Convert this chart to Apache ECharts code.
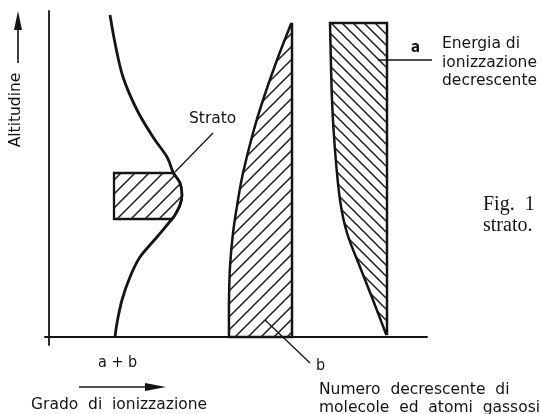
<!DOCTYPE html>
<html><head><meta charset="utf-8">
<script src="https://cdn.jsdelivr.net/npm/echarts@6/dist/echarts.min.js"></script>
<style>html,body{margin:0;padding:0;background:#fff}#c{width:541px;height:414px}</style>
</head><body><div id="c"></div>
<script>
// ---- data (x: grado di ionizzazione, y: altitudine; arbitrary units) ----
const ionCurve = [[61,322],[66,294],[74,260],[88,227],[104,200],[118,180],[124,165],[131,154],[133,142],[131,132],[126,122],[123,118],[108,100],[91,80],[81,60],[73,37],[68,14],[66,0]];
const stratoLeftX = 65;
const stratoTopY = 164;
const stratoBottomY = 118;
const stratoEdge = [[124,164],[131,154],[133,142],[131,132],[126,122],[123,118]];
const bLeftEdge = [[242,313],[228,277],[214,237],[204,204],[194,164],[189,137],[184,104],[181,70],[180,37],[180,0]];
const bRightX = 243;
const aLeftEdge = [[281,314],[283,237],[286,187],[291,137],[298,104],[311,70],[324,37],[337,3]];
const aRightX = 338;
const leaderStrato = [[126,165],[164,204]];
const leaderB = [[216,17],[261,-26]];
const leaderA = [[329,277],[383,277]];
const xRange = [-4, 378];
const yRange = [-8, 326];

const INK = '#141414';
const FONT = '"DejaVu Sans", sans-serif';

function hatch(period, dir, lw) {
  const c = document.createElement('canvas');
  c.width = period; c.height = period;
  const g = c.getContext('2d');
  g.strokeStyle = '#1e1e1e'; g.lineWidth = lw; g.lineCap = 'square';
  g.beginPath();
  for (let k = -1; k <= 1; k++) {
    if (dir > 0) { g.moveTo(k * period, period); g.lineTo(k * period + period, 0); }
    else { g.moveTo(k * period, 0); g.lineTo(k * period + period, period); }
  }
  g.stroke();
  return { image: c, repeat: 'repeat' };
}

function f(p) { return p[0].toFixed(2) + ' ' + p[1].toFixed(2); }
function crSegs(p) {
  let s = '';
  for (let i = 0; i < p.length - 1; i++) {
    const p0 = p[i - 1] || p[i], p1 = p[i], p2 = p[i + 1], p3 = p[i + 2] || p[i + 1];
    const c1 = [p1[0] + (p2[0] - p0[0]) / 6, p1[1] + (p2[1] - p0[1]) / 6];
    const c2 = [p2[0] - (p3[0] - p1[0]) / 6, p2[1] - (p3[1] - p1[1]) / 6];
    s += ' C' + f(c1) + ' ' + f(c2) + ' ' + f(p2);
  }
  return s;
}

function customShape(name, builder, z) {
  return {
    type: 'custom', name: name, data: [[0, 0]], clip: false, silent: true, z: z || 2,
    renderItem: function (params, api) {
      if (params.dataIndex !== 0) return;
      return builder(api);
    }
  };
}

const patStrato = hatch(14, 1, 1.5);
const patB = hatch(13, 1, 1.5);
const patA = hatch(11, -1, 1.5);

const series = [
  customShape('strato', function (api) {
    const edge = stratoEdge.map(p => api.coord(p));
    const tl = api.coord([stratoLeftX, stratoTopY]);
    const bl = api.coord([stratoLeftX, stratoBottomY]);
    const d = 'M' + f(tl) + ' L' + f(edge[0]) + crSegs(edge) + ' L' + f(bl) + ' Z';
    return { type: 'path', shape: { pathData: d }, style: { fill: patStrato, stroke: INK, lineWidth: 2.3 } };
  }),
  customShape('b', function (api) {
    const edge = bLeftEdge.map(p => api.coord(p));
    const br = api.coord([bRightX, bLeftEdge[bLeftEdge.length - 1][1]]);
    const tr = api.coord([bRightX, bLeftEdge[0][1]]);
    const d = 'M' + f(edge[0]) + crSegs(edge) + ' L' + f(br) + ' L' + f(tr) + ' Z';
    return { type: 'path', shape: { pathData: d }, style: { fill: patB, stroke: INK, lineWidth: 2.5 } };
  }),
  customShape('a', function (api) {
    const edge = aLeftEdge.map(p => api.coord(p));
    const br = api.coord([aRightX, aLeftEdge[aLeftEdge.length - 1][1]]);
    const tr = api.coord([aRightX, aLeftEdge[0][1]]);
    const d = 'M' + f(edge[0]) + crSegs(edge) + ' L' + f(br) + ' L' + f(tr) + ' Z';
    return { type: 'path', shape: { pathData: d }, style: { fill: patA, stroke: INK, lineWidth: 2.5 } };
  }),
  customShape('a+b', function (api) {
    const pts = ionCurve.map(p => api.coord(p));
    const d = 'M' + f(pts[0]) + crSegs(pts);
    return { type: 'path', shape: { pathData: d }, style: { fill: null, stroke: INK, lineWidth: 2.8 } };
  }, 3),
  customShape('leaders', function (api) {
    const mk = seg => ({ type: 'line', shape: (function () { const a = api.coord(seg[0]), b = api.coord(seg[1]); return { x1: a[0], y1: a[1], x2: b[0], y2: b[1] }; })(), style: { stroke: INK, lineWidth: 1.3 } });
    return { type: 'group', children: [mk(leaderStrato), mk(leaderB), mk(leaderA)] };
  }, 4)
];

function txt(x, y, text, opts) {
  opts = opts || {};
  return {
    type: 'text', x: x, y: y, rotation: opts.rotation || 0, z: 10,
    style: {
      text: text, font: opts.font || ('15.5px ' + FONT), fill: INK,
      textAlign: opts.align || 'left', textVerticalAlign: 'middle', verticalAlign: 'middle'
    }
  };
}

const chart = echarts.init(document.getElementById('c'), null, { renderer: 'canvas' });
chart.setOption({
  backgroundColor: '#fff',
  animation: false,
  grid: { left: 45, right: 114, top: 11, bottom: 69, containLabel: false },
  xAxis: { type: 'value', min: xRange[0], max: xRange[1], axisLine: { show: true, onZero: true, lineStyle: { color: INK, width: 1.8 } }, axisTick: { show: false }, axisLabel: { show: false }, splitLine: { show: false } },
  yAxis: { type: 'value', min: yRange[0], max: yRange[1], axisLine: { show: true, onZero: true, lineStyle: { color: INK, width: 1.8 } }, axisTick: { show: false }, axisLabel: { show: false }, splitLine: { show: false } },
  series: series,
  graphic: [
    txt(16, 110, 'Altitudine', { rotation: Math.PI / 2, align: 'center' }),
    { type: 'line', z: 10, shape: { x1: 18, y1: 63, x2: 18, y2: 26 }, style: { stroke: INK, lineWidth: 1.6 } },
    { type: 'polygon', z: 10, shape: { points: [[18, 11], [14, 30], [22, 30]] }, style: { fill: INK } },
    txt(189, 119, 'Strato'),
    txt(411, 48, 'a', { font: 'bold 15px "DejaVu Sans Condensed", sans-serif' }),
    txt(442, 44, 'Energia di'),
    txt(442, 63, 'ionizzazione'),
    txt(442, 81, 'decrescente'),
    txt(483, 205, 'Fig.  1', { font: '20px "Liberation Serif", serif' }),
    txt(483, 226, 'strato.', { font: '20px "Liberation Serif", serif' }),
    txt(98, 363, 'a + b', { font: '16px "DejaVu Sans Condensed", sans-serif' }),
    { type: 'line', z: 10, shape: { x1: 79, y1: 387, x2: 150, y2: 387 }, style: { stroke: INK, lineWidth: 1.6 } },
    { type: 'polygon', z: 10, shape: { points: [[166, 387], [145, 383], [145, 391]] }, style: { fill: INK } },
    txt(31, 405, 'Grado  di  ionizzazione'),
    txt(316, 366, 'b', { font: '16px "DejaVu Sans Condensed", sans-serif' }),
    txt(319, 390, 'Numero  decrescente  di'),
    txt(319, 408, 'molecole  ed  atomi  gassosi')
  ]
});
</script>
</body></html>
